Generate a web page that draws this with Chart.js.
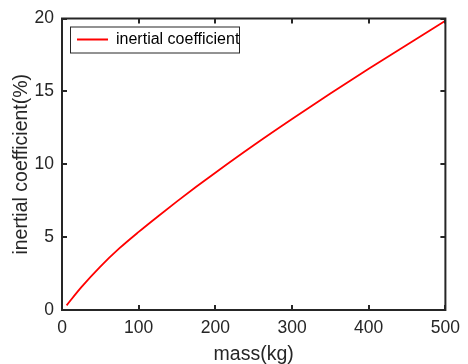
<!DOCTYPE html>
<html>
<head>
<meta charset="utf-8">
<script src="https://cdn.jsdelivr.net/npm/chart.js@4"></script>
<style>
    html, body { margin: 0; padding: 0; background: #fff; }
    #wrap { width: 468px; height: 364px; }
</style>
</head>
<body>
<div id="wrap"><canvas id="inertiaChart" width="468" height="364"></canvas></div>
<script>
// values
const masses = [6, 25, 50, 75, 100, 125, 150, 175, 200, 250, 300, 350, 400, 450, 500];
const coefficients = [0.32, 1.55, 2.98, 4.24, 5.36, 6.42, 7.45, 8.45, 9.42, 11.3, 13.1, 14.85, 16.55, 18.2, 19.84];
const xTicks = [0, 100, 200, 300, 400, 500];
const yTicks = [0, 5, 10, 15, 20];
const seriesLabel = 'inertial coefficient';

const axisColor = '#262626';
const fontFamily = '"Liberation Sans", Arial, Helvetica, sans-serif';

// MATLAB-like box with inward ticks on all four sides, and a framed legend
const boxPlugin = {
    id: 'boxPlugin',
    afterUpdate(chart) {
        const lg = chart.legend;
        const a = chart.chartArea;
        if (!lg) return;
        lg.left = a.left + 8;
        lg.top = a.top + 6;
        lg.right = lg.left + 300;
        lg.bottom = lg.top + 27;
    },
    afterDatasetsDraw(chart) {
        const { ctx, chartArea: a, scales } = chart;
        const len = 5;
        ctx.save();
        ctx.strokeStyle = axisColor;
        ctx.lineWidth = 2;
        ctx.beginPath();
        xTicks.forEach(v => {
            const px = Math.round(scales.x.getPixelForValue(v));
            ctx.moveTo(px, a.bottom); ctx.lineTo(px, a.bottom - len);
            ctx.moveTo(px, a.top); ctx.lineTo(px, a.top + len);
        });
        yTicks.forEach(v => {
            const py = Math.round(scales.y.getPixelForValue(v));
            ctx.moveTo(a.left, py); ctx.lineTo(a.left + len, py);
            ctx.moveTo(a.right, py); ctx.lineTo(a.right - len, py);
        });
        ctx.stroke();
        ctx.strokeRect(a.left, a.top, a.right - a.left, a.bottom - a.top);

        // frame of the legend
        ctx.lineWidth = 1;
        ctx.strokeStyle = '#262626';
        ctx.strokeRect(a.left + 8.5, a.top + 8.5, 169, 26);
        ctx.restore();
    }
};

const ctx = document.getElementById('inertiaChart').getContext('2d');
new Chart(ctx, {
    type: 'line',
    data: {
        datasets: [{
            label: seriesLabel,
            data: masses.map((m, i) => ({ x: m, y: coefficients[i] })),
            borderColor: '#ff0000',
            backgroundColor: '#ff0000',
            borderWidth: 1.8,
            pointRadius: 0,
            cubicInterpolationMode: 'monotone',
            fill: false
        }]
    },
    options: {
        responsive: false,
        animation: false,
        layout: { padding: { top: 16, right: 22, left: 0, bottom: 0 } },
        plugins: {
            tooltip: { enabled: false },
            legend: {
                position: 'chartArea',
                align: 'start',
                labels: {
                    usePointStyle: true,
                    pointStyle: 'line',
                    pointStyleWidth: 31,
                    boxHeight: 16,
                    padding: 7,
                    color: '#000',
                    font: { family: fontFamily, size: 16 }
                }
            }
        },
        scales: {
            x: {
                type: 'linear',
                min: 0,
                max: 500,
                afterBuildTicks: scale => { scale.ticks = xTicks.map(v => ({ value: v })); },
                afterFit: scale => { scale.height = 54; },
                grid: { display: false, drawTicks: false },
                border: { display: false },
                ticks: {
                    padding: 8,
                    color: axisColor,
                    font: { family: fontFamily, size: 17.5 }
                },
                title: {
                    display: true,
                    text: 'mass(kg)',
                    color: axisColor,
                    padding: { top: 0, bottom: 0 },
                    font: { family: fontFamily, size: 19.5, lineHeight: 1 }
                }
            },
            y: {
                min: 0,
                max: 20,
                afterBuildTicks: scale => { scale.ticks = yTicks.map(v => ({ value: v })); },
                afterFit: scale => { scale.width = 62; },
                grid: { display: false, drawTicks: false },
                border: { display: false },
                ticks: {
                    padding: 8,
                    color: axisColor,
                    font: { family: fontFamily, size: 17.5 }
                },
                title: {
                    display: true,
                    text: 'inertial coefficient(%)',
                    color: axisColor,
                    padding: { top: 12, bottom: 0 },
                    font: { family: fontFamily, size: 19.5, lineHeight: 1 }
                }
            }
        }
    },
    plugins: [boxPlugin]
});
</script>
</body>
</html>
